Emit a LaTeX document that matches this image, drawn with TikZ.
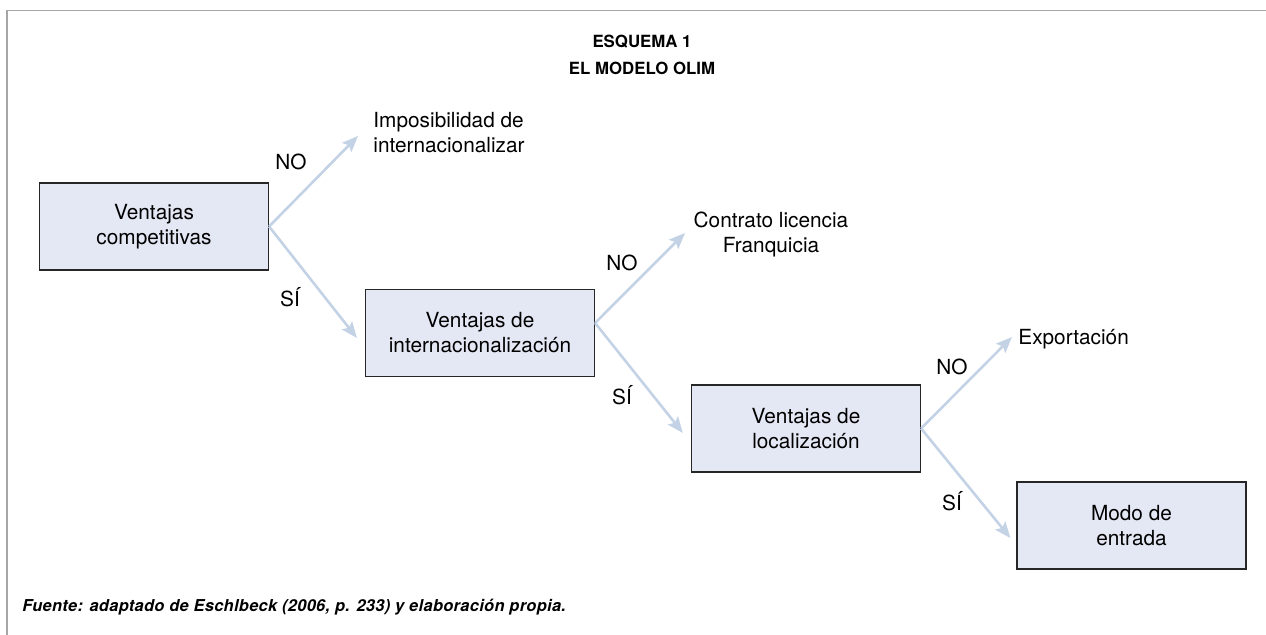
\documentclass[tikz,border=0pt]{standalone}
\usepackage{fontspec}
\setmainfont{TeX Gyre Heros}
\usetikzlibrary{arrows.meta}
\definecolor{boxfill}{HTML}{E4E8F4}
\definecolor{arrowblue}{HTML}{C4D2E6}
\definecolor{framegray}{HTML}{A6A6A6}

\begin{document}
\begin{tikzpicture}[x=0.5pt, y=-0.5pt]
    \tikzset{
        decision/.style={draw=black!85, fill=boxfill, line width=0.6pt, minimum width=114.5pt,
            minimum height=43.5pt, align=center, inner sep=0pt, font=\fontsize{10.4}{12.5}\selectfont},
        outcome/.style={inner sep=0pt, font=\fontsize{10.4}{12.5}\selectfont},
        answer/.style={inner sep=0pt, anchor=base, font=\fontsize{10.4}{12.5}\selectfont},
        branch/.style={draw=arrowblue, line width=1.3pt, -{Stealth[length=8pt, width=6.5pt, inset=1.5pt]}}
    }
    \useasboundingbox (0,0) rectangle (1266,635);
    \draw[framegray, line width=0.8pt] (7,635) -- (7,10.5) -- (1266,10.5);

    \node[align=center, anchor=north, inner sep=0pt, font=\fontsize{8.4}{13.5}\selectfont\bfseries]
        (titulo) at (642,35) {ESQUEMA 1\\EL MODELO OLIM};

    \node[decision] (ventcomp) at (154,226.5) {Ventajas\\competitivas};
    \node[decision] (ventint) at (480,333) {Ventajas de\\internacionalización};
    \node[decision] (ventloc) at (806,428.5) {Ventajas de\\localización};
    \node[decision] (modo) at (1131.5,525.5) {Modo de\\entrada};

    \node[outcome, align=left, anchor=north west] (imposib) at (373,112) {Imposibilidad de\\internacionalizar};
    \node[outcome, align=center, anchor=north] (contrato) at (771,212) {Contrato licencia\\Franquicia};
    \node[outcome, anchor=base west] (export) at (1018,345) {Exportación};

    \coordinate (tipimposib) at (358,136);
    \coordinate (tipcontrato) at (685,233);
    \coordinate (tipexport) at (1012,337);

    \draw[branch] (ventcomp.east) -- (tipimposib);
    \draw[branch] (ventcomp.east) -- ([shift={(-8,5)}]ventint.west);
    \draw[branch] ([yshift=5pt]ventint.east) -- (tipcontrato);
    \draw[branch] ([yshift=5pt]ventint.east) -- ([shift={(-8,4.5)}]ventloc.west);
    \draw[branch] (ventloc.east) -- (tipexport);
    \draw[branch] (ventloc.east) -- ([shift={(-6,12.5)}]modo.west);

    \node[answer] (no1) at (291,170) {NO};
    \node[answer] (si1) at (290,307) {SÍ};
    \node[answer] (no2) at (622,271) {NO};
    \node[answer] (si2) at (622,405) {SÍ};
    \node[answer] (no3) at (952,375) {NO};
    \node[answer] (si3) at (952,511) {SÍ};

    \node[anchor=base west, inner sep=0pt, font=\fontsize{8.2}{9.5}\selectfont\bfseries\itshape\addfontfeatures{LetterSpace=2}]
        (fuente) at (22,612) {Fuente: adaptado de Eschlbeck (2006, p. 233) y elaboración propia.};
\end{tikzpicture}
\end{document}
